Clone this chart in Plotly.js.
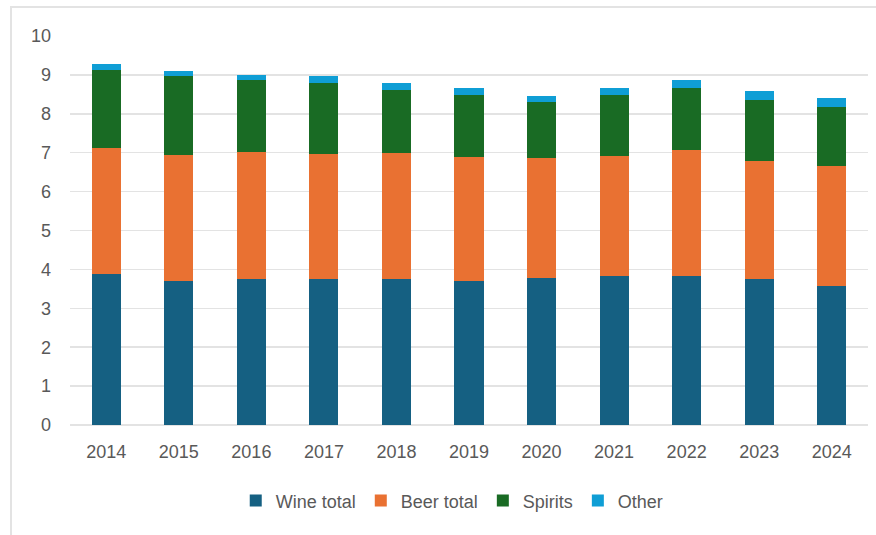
<!DOCTYPE html>
<html>
<head>
<meta charset="utf-8">
<script src="https://cdn.plot.ly/plotly-3.0.1.min.js"></script>
<style>
  html, body { margin: 0; padding: 0; background: #ffffff; }
  #wrap { position: relative; width: 876px; height: 535px; overflow: hidden; }
  #frame { position: absolute; left: 10px; top: 6px; width: 900px; height: 600px;
           border-left: 2px solid #e3e3e3; border-top: 2px solid #e3e3e3; }
  #chart { position: absolute; left: 0; top: 0; width: 876px; height: 535px; }
</style>
</head>
<body>
<div id="wrap">
  <div id="frame"></div>
  <div id="chart"></div>
</div>
<script>
const years = ["2014", "2015", "2016", "2017", "2018", "2019", "2020", "2021", "2022", "2023", "2024"];
const wineTotal = [3.88, 3.70, 3.75, 3.75, 3.75, 3.69, 3.77, 3.83, 3.83, 3.75, 3.58];
const beerTotal = [3.25, 3.23, 3.26, 3.22, 3.25, 3.19, 3.09, 3.09, 3.24, 3.04, 3.08];
const spirits   = [2.00, 2.05, 1.85, 1.83, 1.61, 1.60, 1.44, 1.56, 1.60, 1.56, 1.51];
const other     = [0.15, 0.13, 0.13, 0.17, 0.19, 0.18, 0.17, 0.19, 0.20, 0.24, 0.23];

const seriesNames = ["Wine total", "Beer total", "Spirits", "Other"];
const seriesData = [wineTotal, beerTotal, spirits, other];
const seriesColors = ["#156082", "#E97132", "#196B24", "#0F9ED5"];

const traces = seriesNames.map((name, i) => ({
  type: "bar",
  name: name,
  x: years,
  y: seriesData[i],
  marker: { color: seriesColors[i] },
  hoverinfo: "x+y+name"
}));

const layout = {
  width: 876,
  height: 535,
  barmode: "stack",
  bargap: 0.6,
  paper_bgcolor: "rgba(0,0,0,0)",
  plot_bgcolor: "rgba(0,0,0,0)",
  margin: { l: 70, r: 8, t: 36, b: 110 },
  font: { family: "Liberation Sans, Arial, sans-serif", size: 18, color: "#595959" },
  xaxis: {
    type: "category",
    showgrid: false,
    showline: false,
    zeroline: false,
    ticks: "",
    ticklabelstandoff: 14,
    tickfont: { size: 18, color: "#595959" }
  },
  yaxis: {
    range: [0, 10],
    dtick: 1,
    showgrid: true,
    gridcolor: "#e3e3e3",
    gridwidth: 1.5,
    zeroline: true,
    zerolinecolor: "#e3e3e3",
    zerolinewidth: 1.5,
    showline: false,
    ticks: "",
    ticklabelstandoff: 18,
    tickfont: { size: 18, color: "#595959" }
  },
  legend: {
    orientation: "h",
    x: 0.479,
    xanchor: "center",
    y: -0.195,
    yanchor: "middle",
    traceorder: "normal",
    font: { size: 18, color: "#595959" },
    itemwidth: 30
  },
  showlegend: true
};

Plotly.newPlot("chart", traces, layout, { displayModeBar: false, staticPlot: true });
</script>
</body>
</html>
